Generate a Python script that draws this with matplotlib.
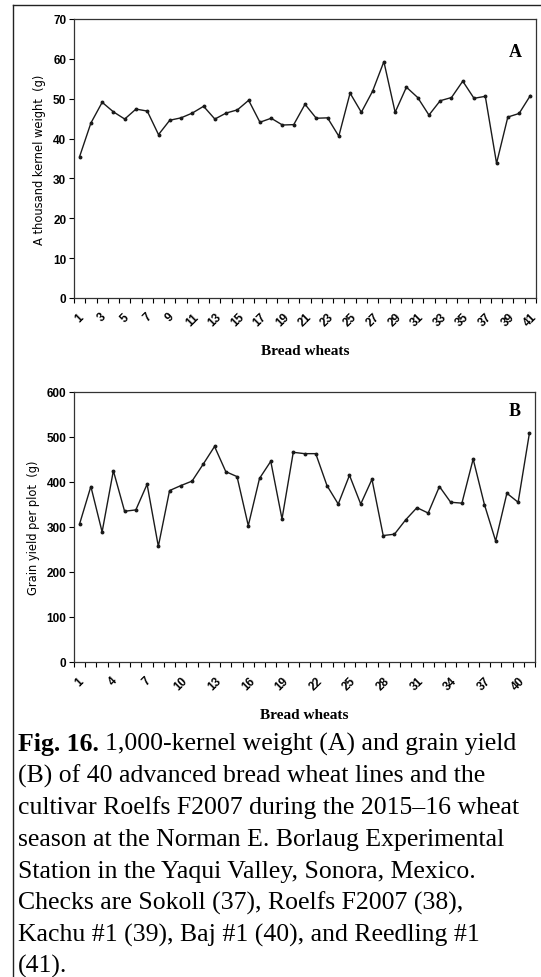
import numpy as np
import matplotlib
matplotlib.use('Agg')
import matplotlib.pyplot as plt
from matplotlib.lines import Line2D

# bread wheat entries 1-41
entries = np.arange(1, 42)

# 1,000-kernel weight (g)
kernel_weight = [35.5, 43.9, 49.1, 46.7, 44.9, 47.4, 46.9, 41.0, 44.6, 45.2,
                 46.4, 48.1, 44.9, 46.4, 47.2, 49.6, 44.1, 45.1, 43.4, 43.5,
                 48.6, 45.1, 45.2, 40.6, 51.4, 46.6, 51.9, 59.3, 46.6, 52.9,
                 50.3, 45.9, 49.5, 50.3, 54.4, 50.1, 50.6, 33.8, 45.4, 46.3,
                 50.8]

# grain yield per plot (g)
grain_yield = [307, 390, 289, 425, 335, 338, 395, 257, 381, 392,
               402, 440, 479, 423, 412, 303, 408, 446, 318, 466,
               463, 463, 392, 351, 415, 351, 406, 281, 284, 316,
               343, 331, 390, 355, 353, 451, 350, 269, 375, 355,
               508]

labels_a = list(range(1, 42, 2))
labels_b = list(range(1, 42, 3))

caption = [
    "1,000-kernel weight (A) and grain yield",
    "(B) of 40 advanced bread wheat lines and the",
    "cultivar Roelfs F2007 during the 2015\u201316 wheat",
    "season at the Norman E. Borlaug Experimental",
    "Station in the Yaqui Valley, Sonora, Mexico.",
    "Checks are Sokoll (37), Roelfs F2007 (38),",
    "Kachu #1 (39), Baj #1 (40), and Reedling #1",
    "(41).",
]

W, H = 541, 978
fig = plt.figure(figsize=(W / 100, H / 100), dpi=100)
fig.patch.set_facecolor('white')


def px(x0, y0, x1, y1):
    return [x0 / W, 1 - y1 / H, (x1 - x0) / W, (y1 - y0) / H]


def panel(rect, values, ymax, ystep, xlabels, ylabel, tag, tag_y):
    ax = fig.add_axes(rect)
    ax.plot(entries, values, color='#1a1a1a', lw=1.0, marker='o', ms=1.8)
    ax.set_xlim(0.5, 41.5)
    ax.set_ylim(0, ymax)
    ax.set_yticks(np.arange(0, ymax + 1, ystep))
    for lbl in ax.get_yticklabels():
        lbl.set_fontweight('bold')
        lbl.set_fontsize(8.5)
        lbl.set_family('Liberation Sans')
    # category boundaries get the tick marks, labels sit on the categories
    ax.set_xticks(np.arange(0.5, 42, 1))
    ax.set_xticklabels([])
    ax.set_xticks(xlabels, minor=True)
    ax.set_xticklabels([str(v) for v in xlabels], minor=True, rotation=45,
                       ha='center', fontsize=8.5, fontweight='bold',
                       family='Liberation Sans')
    ax.tick_params(which='major', direction='out', length=3.5, width=0.8)
    ax.tick_params(axis='x', which='minor', length=0, pad=9)
    ax.tick_params(axis='y', pad=2)
    for s in ax.spines.values():
        s.set_linewidth(0.9)
        s.set_color('#333333')
    ax.set_ylabel(ylabel, fontsize=8.3, family='DejaVu Sans', labelpad=5)
    ax.set_xlabel('Bread wheats', fontsize=11, fontweight='bold',
                  family='Liberation Serif', labelpad=11)
    ax.text(0.955, tag_y, tag, transform=ax.transAxes, ha='center', va='center',
            fontsize=13, fontweight='bold', family='Liberation Serif')
    return ax


panel(px(74, 20, 536, 299), kernel_weight, 70, 10, labels_a,
      'A thousand kernel weight  (g)', 'A', 0.885)
panel(px(74, 393, 535, 663), grain_yield, 600, 100, labels_b,
      'Grain yield per plot  (g)', 'B', 0.93)

# frame lines along the top and left edge
fig.add_artist(Line2D([13 / W, 1], [1 - 6 / H, 1 - 6 / H], color='#222222', lw=1.0))
fig.add_artist(Line2D([13 / W, 13 / W], [0, 1 - 6 / H], color='#222222', lw=1.0))

# caption
fs = 18.5
x0 = 18 / W
base0 = 751
step = 31.7
bold = fig.text(x0, 1 - base0 / H, 'Fig. 16. ', fontsize=fs, fontweight='bold',
                family='Liberation Serif', va='baseline')
fig.canvas.draw()
bb = bold.get_window_extent(renderer=fig.canvas.get_renderer())
fig.text(bb.x1 / fig.bbox.width, 1 - base0 / H, caption[0], fontsize=fs,
         family='Liberation Serif', va='baseline')
for i, line in enumerate(caption[1:], start=1):
    fig.text(x0, 1 - (base0 + i * step) / H, line, fontsize=fs,
             family='Liberation Serif', va='baseline')

fig.savefig('out.png', dpi=100)
